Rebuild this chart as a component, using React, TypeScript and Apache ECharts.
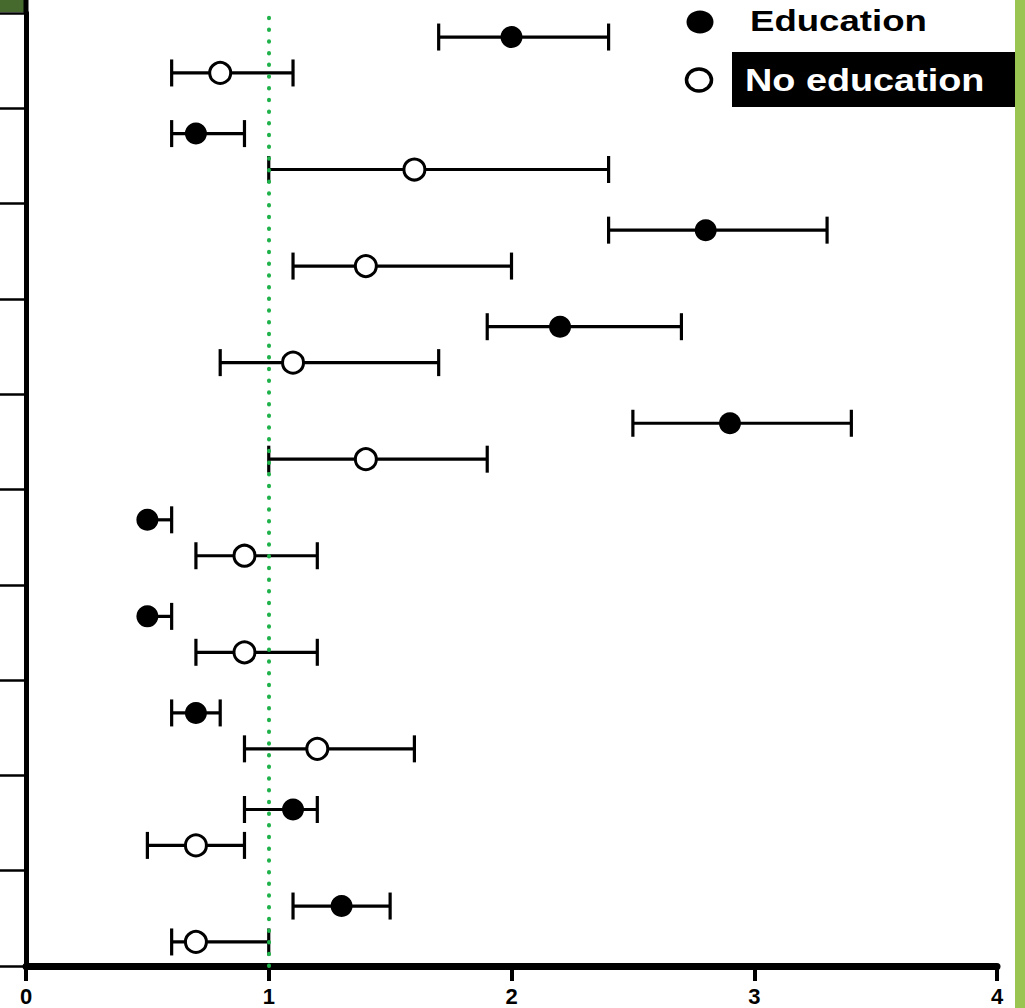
import React, { useEffect, useRef } from "react";
import * as echarts from "echarts";

// Rows listed from top to bottom (row labels are cropped out of the reference)
const rowIds = ["1", "2", "3", "4", "5", "6", "7", "8", "9", "10"];

const educationOR = [2.0, 0.7, 2.8, 2.2, 2.9, 0.5, 0.5, 0.7, 1.1, 1.3];
const educationLow = [1.7, 0.6, 2.4, 1.9, 2.5, 0.5, 0.5, 0.6, 0.9, 1.1];
const educationHigh = [2.4, 0.9, 3.3, 2.7, 3.4, 0.6, 0.6, 0.8, 1.2, 1.5];

const noEducationOR = [0.8, 1.6, 1.4, 1.1, 1.4, 0.9, 0.9, 1.2, 0.7, 0.7];
const noEducationLow = [0.6, 1.0, 1.1, 0.8, 1.0, 0.7, 0.7, 0.9, 0.5, 0.6];
const noEducationHigh = [1.1, 2.4, 2.0, 1.7, 1.9, 1.2, 1.2, 1.6, 0.9, 1.0];

const xTickValues = [0, 1, 2, 3, 4];
const REFERENCE_VALUE = 1;

const seriesNames = ["Education", "No education"];

export default function App() {
  const ref = useRef<HTMLDivElement>(null);

  useEffect(() => {
    if (!ref.current) return;
    const chart = echarts.init(ref.current, undefined, { renderer: "svg" });

    const n = rowIds.length;
    const EDU_OFFSET = 0.621;
    const NOEDU_OFFSET = 0.249;
    const rowPos = (i: number) => n - 1 - i;

    const eduBars = rowIds.map((_, i) => [
      educationLow[i],
      educationHigh[i],
      rowPos(i) + EDU_OFFSET,
      educationOR[i],
    ]);
    const noEduBars = rowIds.map((_, i) => [
      noEducationLow[i],
      noEducationHigh[i],
      rowPos(i) + NOEDU_OFFSET,
      noEducationOR[i],
    ]);
    const eduPts = rowIds.map((_, i) => [educationOR[i], rowPos(i) + EDU_OFFSET]);
    const noEduPts = rowIds.map((_, i) => [noEducationOR[i], rowPos(i) + NOEDU_OFFSET]);

    const renderErr = (params: any, api: any) => {
      const y = api.value(2);
      const lowV = api.value(0);
      const highV = api.value(1);
      const pt = api.value(3);
      const lo = api.coord([lowV, y]);
      const hi = api.coord([highV, y]);
      const h = 13.5;
      const style = { stroke: "#000", lineWidth: 3.2 };
      const children: any[] = [
        { type: "line", shape: { x1: lo[0], y1: lo[1], x2: hi[0], y2: hi[1] }, style },
      ];
      if (highV > pt)
        children.push({ type: "line", shape: { x1: hi[0], y1: hi[1] - h, x2: hi[0], y2: hi[1] + h }, style });
      if (lowV < pt)
        children.push({ type: "line", shape: { x1: lo[0], y1: lo[1] - h, x2: lo[0], y2: lo[1] + h }, style });
      return { type: "group", children };
    };

    const font = "'Liberation Sans', Arial, sans-serif";

    chart.setOption({
      animation: false,
      backgroundColor: "#fff",
      grid: { left: 26, right: 28, top: 13, bottom: 42, outerBoundsMode: "none", containLabel: false },
      xAxis: {
        type: "value",
        min: xTickValues[0],
        max: xTickValues[xTickValues.length - 1],
        interval: 1,
        axisLine: { show: true, lineStyle: { color: "#000", width: 7 } },
        axisTick: { show: true, length: 15, lineStyle: { color: "#000", width: 4 } },
        axisLabel: {
          show: true,
          color: "#000",
          fontSize: 22,
          lineHeight: 22,
          fontWeight: "bold",
          fontFamily: "Liberation Sans",
          margin: 19,
          hideOverlap: false,
        },
        splitLine: { show: false },
      },
      yAxis: [
        {
          type: "value",
          min: 0,
          max: n,
          interval: 1,
          axisLine: { show: true, lineStyle: { color: "#000", width: 5 } },
          axisTick: { show: true, length: 26, lineStyle: { color: "#000", width: 2.5 } },
          axisLabel: { show: false },
          splitLine: { show: false },
        },
        {
          type: "value",
          min: 0,
          max: 9.87,
          show: false,
        },
      ],
      series: [
        {
          type: "custom",
          name: seriesNames[0] + " CI",
          xAxisIndex: 0,
          yAxisIndex: 1,
          renderItem: renderErr,
          encode: { x: [0, 1], y: 2 },
          data: eduBars,
          z: 2,
          silent: true,
        },
        {
          type: "custom",
          name: seriesNames[1] + " CI",
          xAxisIndex: 0,
          yAxisIndex: 1,
          renderItem: renderErr,
          encode: { x: [0, 1], y: 2 },
          data: noEduBars,
          z: 2,
          silent: true,
        },
        {
          type: "scatter",
          name: seriesNames[0],
          yAxisIndex: 1,
          data: eduPts,
          symbol: "circle",
          symbolSize: 22,
          itemStyle: { color: "#000", opacity: 1 },
          z: 3,
          markLine: {
            silent: true,
            symbol: ["none", "none"],
            label: { show: false },
            lineStyle: { color: "#1fb24a", width: 4, type: [0.5, 11.2], cap: "round", opacity: 1 },
            data: [{ xAxis: REFERENCE_VALUE }],
          },
        },
        {
          type: "scatter",
          name: seriesNames[1],
          yAxisIndex: 1,
          data: noEduPts,
          symbol: "circle",
          symbolSize: 21,
          itemStyle: { color: "#fff", borderColor: "#000", borderWidth: 3, opacity: 1 },
          z: 3,
        },
      ],
      graphic: [
        { type: "rect", shape: { x: 1015, y: 0, width: 10, height: 1008 }, style: { fill: "#9bc553" } },
        { type: "rect", shape: { x: 0, y: 0, width: 24, height: 12 }, style: { fill: "#466a2e" } },
        { type: "line", shape: { x1: 26, y1: 0, x2: 26, y2: 14 }, style: { stroke: "#000", lineWidth: 5 } },
        { type: "ellipse", shape: { cx: 700, cy: 22, rx: 13.5, ry: 11.5 }, style: { fill: "#000" } },
        {
          type: "text",
          x: 750,
          y: 21,
          scaleX: 1.22,
          style: {
            text: seriesNames[0],
            fill: "#000",
            font: `bold 30px ${font}`,
            verticalAlign: "middle",
            align: "left",
          },
        },
        {
          type: "ellipse",
          shape: { cx: 699, cy: 80, rx: 12.5, ry: 11 },
          style: { fill: "#fff", stroke: "#000", lineWidth: 3.5 },
        },
        { type: "rect", shape: { x: 732, y: 52, width: 283, height: 55 }, style: { fill: "#000" } },
        {
          type: "text",
          x: 745,
          y: 80,
          scaleX: 1.22,
          style: {
            text: seriesNames[1],
            fill: "#fff",
            font: `bold 31px ${font}`,
            verticalAlign: "middle",
            align: "left",
          },
        },
      ],
    });

    return () => chart.dispose();
  }, []);

  return (
    <div
      ref={ref}
      style={{ position: "absolute", left: 0, top: 0, width: 1025, height: 1008, background: "#fff" }}
    />
  );
}
